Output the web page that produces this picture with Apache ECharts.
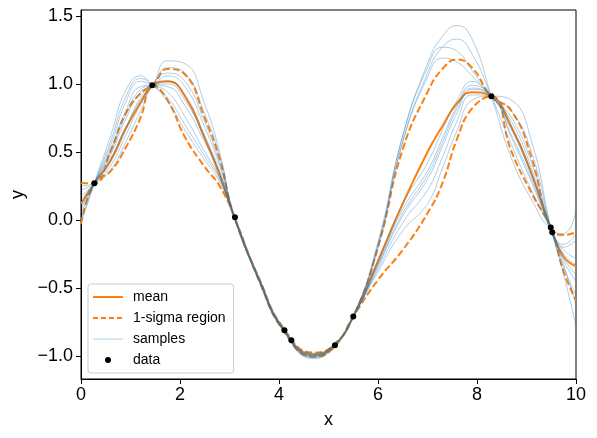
<!DOCTYPE html>
<html>
<head>
<meta charset="utf-8">
<script src="https://cdn.jsdelivr.net/npm/echarts@6/dist/echarts.min.js"></script>
<style>
html,body{margin:0;padding:0;background:#fff;}
#chart{width:597px;height:438px;}
</style>
</head>
<body>
<div id="chart"></div>
<script>
// grid of x positions at which curves were read
const xs = [0, 0.27, 0.6, 0.9, 1.2, 1.45, 1.75, 2.1, 2.5, 2.8, 3.1, 3.6, 4.1, 4.7, 5.1, 5.5, 6.0, 6.5, 7.0, 7.3, 7.6, 7.9, 8.29, 8.7, 9.1, 9.5, 9.75, 10];

const meanY  = [0.12, 0.27, 0.44, 0.67, 0.86, 0.99, 1.02, 0.91, 0.60, 0.33, 0.02, -0.44, -0.81, -0.99, -0.93, -0.71, -0.30, 0.12, 0.50, 0.69, 0.86, 0.94, 0.91, 0.68, 0.34, -0.07, -0.27, -0.34];
const upperY = [0.27, 0.27, 0.51, 0.78, 0.93, 0.99, 1.11, 1.07, 0.75, 0.45, 0.02, -0.43, -0.80, -0.975, -0.92, -0.71, -0.20, 0.52, 0.94, 1.11, 1.18, 1.12, 0.91, 0.80, 0.46, -0.07, -0.11, -0.09];
const lowerY = [-0.03, 0.27, 0.36, 0.53, 0.75, 0.99, 0.88, 0.61, 0.39, 0.25, 0.02, -0.45, -0.82, -1.005, -0.94, -0.71, -0.44, -0.22, 0.05, 0.27, 0.60, 0.82, 0.91, 0.50, 0.20, -0.07, -0.38, -0.59];

const sample1  = [-0.03, 0.27, 0.62, 0.95, 1.06, 0.99, 0.90, 0.70, 0.47, 0.30, 0.02, -0.45, -0.82, -1.01, -0.93, -0.71, -0.34, 0.03, 0.30, 0.54, 0.79, 0.96, 0.91, 0.62, 0.30, -0.07, -0.25, -0.33];
const sample2  = [0.22, 0.27, 0.40, 0.62, 0.85, 0.99, 1.17, 1.15, 0.85, 0.50, 0.02, -0.44, -0.81, -0.99, -0.92, -0.71, -0.19, 0.58, 1.08, 1.27, 1.33, 1.22, 0.91, 0.55, 0.22, -0.07, -0.20, -0.15];
const sample3  = [0.18, 0.27, 0.45, 0.68, 0.88, 0.99, 1.12, 1.08, 0.78, 0.47, 0.02, -0.43, -0.80, -0.98, -0.92, -0.71, -0.30, 0.12, 0.42, 0.66, 0.88, 1.02, 0.91, 0.80, 0.50, -0.07, -0.35, -0.55];
const sample4  = [0.00, 0.27, 0.58, 0.90, 1.04, 0.99, 0.87, 0.66, 0.44, 0.28, 0.02, -0.44, -0.81, -1.00, -0.93, -0.71, -0.21, 0.57, 1.05, 1.19, 1.16, 1.06, 0.91, 0.72, 0.38, -0.07, -0.28, -0.40];
const sample5  = [0.12, 0.27, 0.48, 0.74, 0.94, 0.99, 1.06, 0.98, 0.68, 0.40, 0.02, -0.45, -0.82, -1.02, -0.94, -0.71, -0.38, -0.08, 0.12, 0.38, 0.66, 0.88, 0.91, 0.88, 0.58, -0.07, -0.40, -0.78];
const sample6  = [0.10, 0.27, 0.50, 0.77, 0.96, 0.99, 1.02, 0.92, 0.62, 0.36, 0.02, -0.44, -0.81, -0.99, -0.92, -0.71, -0.16, 0.62, 1.15, 1.35, 1.43, 1.33, 0.91, 0.45, 0.15, -0.07, -0.10, 0.07];
const sample7  = [0.05, 0.27, 0.55, 0.86, 1.02, 0.99, 0.94, 0.76, 0.50, 0.31, 0.02, -0.43, -0.80, -1.00, -0.93, -0.71, -0.32, 0.08, 0.36, 0.60, 0.84, 0.99, 0.91, 0.66, 0.33, -0.07, -0.30, -0.45];
const sample8  = [0.25, 0.27, 0.37, 0.57, 0.80, 0.99, 1.08, 1.02, 0.72, 0.42, 0.02, -0.45, -0.82, -1.01, -0.93, -0.71, -0.36, -0.02, 0.22, 0.46, 0.73, 0.92, 0.91, 0.60, 0.28, -0.07, -0.22, -0.28];
const sample9  = [0.08, 0.27, 0.52, 0.80, 0.98, 0.99, 0.98, 0.84, 0.57, 0.35, 0.02, -0.44, -0.81, -0.98, -0.92, -0.71, -0.18, 0.62, 1.12, 1.27, 1.24, 1.10, 0.91, 0.75, 0.42, -0.07, -0.33, -0.62];
const sample10 = [0.15, 0.27, 0.43, 0.66, 0.90, 0.99, 1.00, 0.88, 0.60, 0.34, 0.02, -0.44, -0.81, -1.00, -0.93, -0.71, -0.33, 0.05, 0.33, 0.57, 0.82, 0.97, 0.91, 0.68, 0.35, -0.07, -0.18, -0.10];

const dataX = [0.27, 1.44, 3.11, 4.11, 4.25, 5.13, 5.50, 8.29, 9.49, 9.52];
const dataY = [0.27, 0.99, 0.02, -0.81, -0.885, -0.92, -0.71, 0.91, -0.055, -0.09];

const xTicks = [0, 2, 4, 6, 8, 10];
const yTicks = [-1.0, -0.5, 0.0, 0.5, 1.0, 1.5];

const FONT = 'Liberation Sans';
const ORANGE = '#ff7f0e';
const BLUE = '#1f77b4';

function pairs(x, y) { return x.map((v, i) => [v, y[i]]); }

const samples = [sample1, sample2, sample3, sample4, sample5, sample6, sample7, sample8, sample9, sample10];

const series = [];
series.push({name: 'mean', type: 'line', data: pairs(xs, meanY), smooth: true, symbol: 'none',
  lineStyle: {color: ORANGE, width: 2}, itemStyle: {color: ORANGE}, z: 2});
series.push({name: '1-sigma region', type: 'line', data: pairs(xs, upperY), smooth: true, symbol: 'none',
  lineStyle: {color: ORANGE, width: 2, type: [7, 3]}, itemStyle: {color: ORANGE}, z: 2});
series.push({name: '1-sigma region', type: 'line', data: pairs(xs, lowerY), smooth: true, symbol: 'none',
  lineStyle: {color: ORANGE, width: 2, type: [7, 3]}, itemStyle: {color: ORANGE}, z: 2});
samples.forEach(s => series.push({name: 'samples', type: 'line', data: pairs(xs, s), smooth: true, symbol: 'none',
  lineStyle: {color: BLUE, width: 0.8, opacity: 0.45}, itemStyle: {color: BLUE}, z: 3}));
series.push({name: 'data', type: 'scatter', data: pairs(dataX, dataY), symbol: 'circle', symbolSize: 6,
  itemStyle: {color: '#000', opacity: 1}, z: 5});

const fmt = v => (v < 0 ? '\u2212' : '') + Math.abs(v).toFixed(1);

const chart = echarts.init(document.getElementById('chart'), null, {renderer: 'canvas'});
chart.setOption({
  animation: false,
  backgroundColor: '#fff',
  grid: {left: 81, right: 21, top: 10, bottom: 59, show: true, borderColor: '#000', borderWidth: 1, backgroundColor: 'transparent'},
  xAxis: {
    type: 'value', min: 0, max: 10, interval: 2,
    name: 'x', nameLocation: 'middle', nameGap: 32,
    nameTextStyle: {fontFamily: FONT, fontSize: 18, color: '#000'},
    axisLine: {show: true, onZero: false, lineStyle: {color: '#000', width: 1}},
    axisTick: {show: true, inside: false, length: 5, lineStyle: {color: '#000'}, customValues: xTicks},
    axisLabel: {fontFamily: FONT, fontSize: 18, color: '#000', margin: 7, customValues: xTicks},
    splitLine: {show: false}
  },
  yAxis: {
    type: 'value', min: -1.169, max: 1.544,
    name: 'y', nameLocation: 'middle', nameGap: 52, nameRotate: 90,
    nameTextStyle: {fontFamily: FONT, fontSize: 18, color: '#000'},
    axisLine: {show: true, onZero: false, lineStyle: {color: '#000', width: 1}},
    axisTick: {show: true, inside: false, length: 5, lineStyle: {color: '#000'}, customValues: yTicks},
    axisLabel: {fontFamily: FONT, fontSize: 18, color: '#000', margin: 8, customValues: yTicks, formatter: fmt},
    splitLine: {show: false}
  },
  legend: {
    orient: 'vertical', left: 88, top: 284,
    itemWidth: 30, itemHeight: 6, itemGap: 7,
    padding: [6, 8, 6, 4],
    borderColor: '#cccccc', borderWidth: 1, borderRadius: 3,
    backgroundColor: 'rgba(255,255,255,0.8)',
    textStyle: {fontFamily: FONT, fontSize: 14, color: '#000', padding: [0, 0, 0, 5]},
    data: [
      {name: 'mean', lineStyle: {color: ORANGE, width: 2, type: 'solid'}, itemStyle: {opacity: 0}},
      {name: '1-sigma region', lineStyle: {color: ORANGE, width: 2, type: [5, 3]}, itemStyle: {opacity: 0}},
      {name: 'samples', lineStyle: {color: BLUE, width: 1, opacity: 0.35}, itemStyle: {opacity: 0}},
      {name: 'data', icon: 'circle', itemStyle: {color: '#000', opacity: 1}}
    ]
  },
  series: series
});
</script>
</body>
</html>
